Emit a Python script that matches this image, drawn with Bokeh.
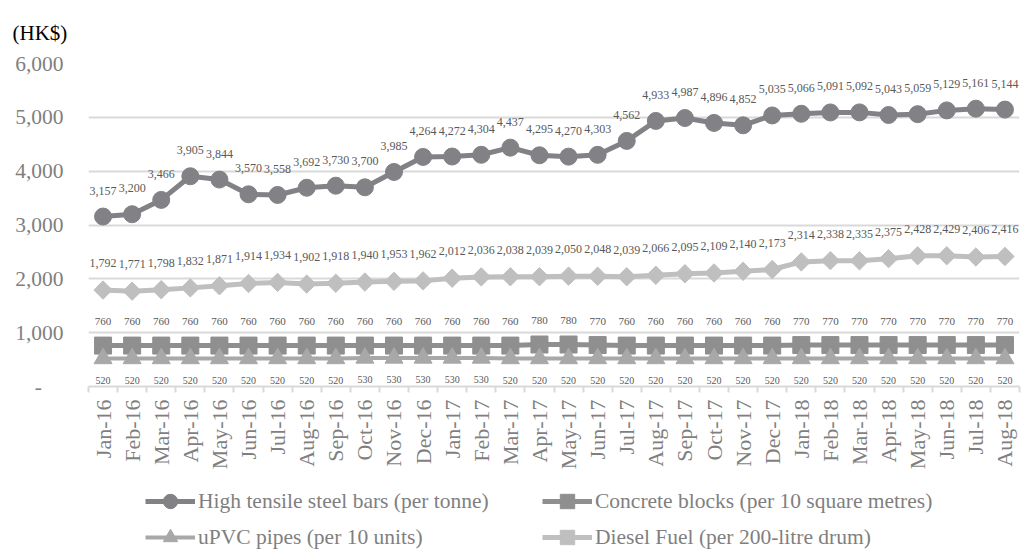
import math
import numpy as np
from bokeh.plotting import figure
from bokeh.layouts import column
from bokeh.models import (ColumnDataSource, FixedTicker, Legend, LegendItem,
                          LabelSet, Range1d)
from bokeh.core.properties import value
from bokeh.embed import file_html
from bokeh.resources import INLINE

months = ["Jan-16", "Feb-16", "Mar-16", "Apr-16", "May-16", "Jun-16", "Jul-16", "Aug-16",
          "Sep-16", "Oct-16", "Nov-16", "Dec-16", "Jan-17", "Feb-17", "Mar-17", "Apr-17",
          "May-17", "Jun-17", "Jul-17", "Aug-17", "Sep-17", "Oct-17", "Nov-17", "Dec-17",
          "Jan-18", "Feb-18", "Mar-18", "Apr-18", "May-18", "Jun-18", "Jul-18", "Aug-18"]

steel = [3157, 3200, 3466, 3905, 3844, 3570, 3558, 3692, 3730, 3700, 3985, 4264,
         4272, 4304, 4437, 4295, 4270, 4303, 4562, 4933, 4987, 4896, 4852, 5035,
         5066, 5091, 5092, 5043, 5059, 5129, 5161, 5144]
concrete = [760, 760, 760, 760, 760, 760, 760, 760, 760, 760, 760, 760,
            760, 760, 760, 780, 780, 770, 760, 760, 760, 760, 760, 760,
            770, 770, 770, 770, 770, 770, 770, 770]
upvc = [520, 520, 520, 520, 520, 520, 520, 520, 520, 530, 530, 530,
        530, 530, 520, 520, 520, 520, 520, 520, 520, 520, 520, 520,
        520, 520, 520, 520, 520, 520, 520, 520]
diesel = [1792, 1771, 1798, 1832, 1871, 1914, 1934, 1902, 1918, 1940, 1953, 1962,
          2012, 2036, 2038, 2039, 2050, 2048, 2039, 2066, 2095, 2109, 2140, 2173,
          2314, 2338, 2335, 2375, 2428, 2429, 2406, 2416]

series_names = ["High tensile steel bars (per tonne)",
                "Concrete blocks (per 10 square metres)",
                "uPVC pipes (per 10 units)",
                "Diesel Fuel (per 200-litre drum)"]

y_ticks = [0, 1000, 2000, 3000, 4000, 5000, 6000]
y_tick_labels = ["-\u00a0\u00a0\u00a0\u00a0", "1,000", "2,000", "3,000", "4,000", "5,000", "6,000"]

FONT = "Liberation Serif"
AXIS_COLOR = "#7f7f7f"
LABEL_COLOR = "#595959"
GRID = "#d9d9d9"

xs = list(range(len(months)))

p = figure(frame_width=931, frame_height=323, output_backend="svg", toolbar_location=None,
           x_range=Range1d(-0.5, len(months) - 0.5), y_range=Range1d(0, 6000),
           min_border_left=88, min_border_right=3, min_border_top=62, min_border_bottom=90,
           title="(HK$)")
p.outline_line_color = None
p.background_fill_color = "white"
p.border_fill_color = "white"

p.title.align = "left"
p.title.offset = -76
p.title.standoff = 37
p.title.text_font = FONT
p.title.text_font_size = "21px"
p.title.text_font_style = "normal"
p.title.text_color = "#000000"

p.xgrid.grid_line_color = None
p.ygrid.ticker = FixedTicker(ticks=y_ticks[1:])
p.ygrid.grid_line_color = GRID
p.ygrid.grid_line_width = 2

p.yaxis.ticker = FixedTicker(ticks=y_ticks)
p.yaxis.major_label_overrides = {t: l for t, l in zip(y_ticks, y_tick_labels)}
p.yaxis.axis_line_color = None
p.yaxis.major_tick_line_color = None
p.yaxis.minor_tick_line_color = None
p.yaxis.major_tick_out = 0
p.yaxis.major_label_standoff = 25
p.yaxis.major_label_text_font = FONT
p.yaxis.major_label_text_font_size = "21.5px"
p.yaxis.major_label_text_color = AXIS_COLOR

p.xaxis.ticker = FixedTicker(ticks=xs, minor_ticks=[i - 0.5 for i in range(len(months) + 1)])
p.xaxis.major_label_overrides = {i: m for i, m in enumerate(months)}
p.xaxis.major_label_orientation = math.pi / 2
p.xaxis.major_tick_line_color = None
p.xaxis.major_tick_out = 0
p.xaxis.major_tick_in = 0
p.xaxis.minor_tick_out = 6
p.xaxis.minor_tick_in = 0
p.xaxis.minor_tick_line_color = GRID
p.xaxis.minor_tick_line_width = 2
p.xaxis.axis_line_color = GRID
p.xaxis.axis_line_width = 2
p.xaxis.major_label_standoff = 7
p.xaxis.major_label_text_font = FONT
p.xaxis.major_label_text_font_size = "22px"
p.xaxis.major_label_text_color = AXIS_COLOR

styles = [
    dict(vals=steel, color="#818186", marker="circle", size=17, angle=0, lw=5, off=26, fs="12px"),
    dict(vals=concrete, color="#8f8f8f", marker="square", size=17, angle=0, lw=5, off=24, fs="11px"),
    dict(vals=upvc, color="#a8a8a8", marker="triangle", size=18, angle=0, lw=4, off=-22, fs="10px"),
    dict(vals=diesel, color="#bfbfbf", marker="square", size=13, angle=math.pi / 4, lw=5, off=27, fs="12px"),
]

# legend-only figure below the chart (its frame is aligned with the chart's frame)
lg = figure(width=1022, height=77, output_backend="svg", toolbar_location=None,
            x_axis_location=None, y_axis_location=None,
            x_range=Range1d(0, 1), y_range=Range1d(0, 1),
            min_border_left=88, min_border_right=3, min_border_top=0, min_border_bottom=0)
lg.outline_line_color = None
lg.xgrid.visible = False
lg.ygrid.visible = False
lg.background_fill_color = "white"
lg.border_fill_color = "white"

items = []
for name, st in zip(series_names, styles):
    src = ColumnDataSource(dict(x=xs, y=st["vals"], t=[f"{v:,}" for v in st["vals"]]))
    p.line("x", "y", source=src, line_color=st["color"], line_width=st["lw"])
    p.scatter("x", "y", source=src, marker=st["marker"], size=st["size"], angle=st["angle"],
              fill_color=st["color"], line_color=st["color"])
    ls = LabelSet(x="x", y="y", text="t", source=src, y_offset=st["off"],
                  text_align="center", text_baseline="middle",
                  text_font=value(FONT), text_font_size=st["fs"],
                  text_color=LABEL_COLOR)
    p.add_layout(ls)
    blank = ColumnDataSource(dict(x=np.array([np.nan]), y=np.array([np.nan])))
    lr = lg.line("x", "y", source=blank, line_color=st["color"], line_width=st["lw"])
    sr = lg.scatter("x", "y", source=blank, marker=st["marker"], size=st["size"] - 2,
                    angle=st["angle"], fill_color=st["color"], line_color=st["color"])
    items.append(LegendItem(label=name, renderers=[lr, sr]))

legend_style = dict(label_text_font=FONT, label_text_font_size="21.5px",
                    label_text_color=AXIS_COLOR, glyph_width=50, glyph_height=36,
                    label_standoff=3, spacing=0, label_height=24, padding=0, margin=0,
                    border_line_color=None, background_fill_alpha=0)
lg.add_layout(Legend(items=[items[0], items[2]], location=(57, -2), **legend_style))
lg.add_layout(Legend(items=[items[1], items[3]], location=(454, -2), **legend_style))

layout = column(p, lg, spacing=0)
open("out.html", "w").write(file_html(layout, INLINE))
